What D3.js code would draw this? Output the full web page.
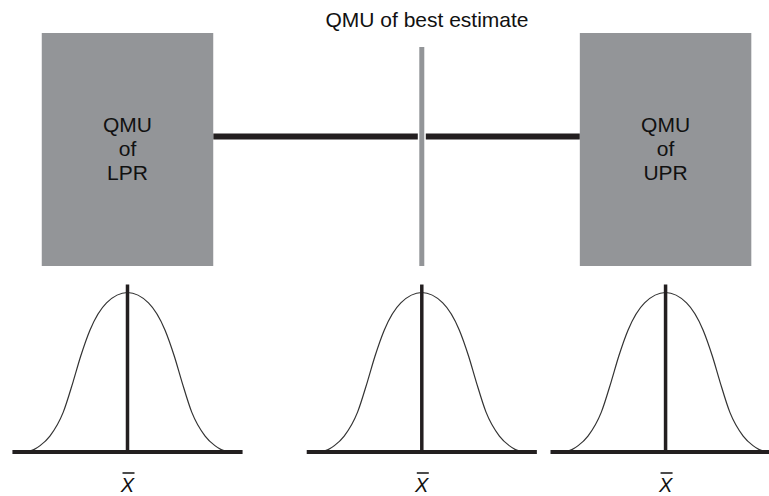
<!DOCTYPE html>
<html>
<head>
<meta charset="utf-8">
<script src="https://cdn.jsdelivr.net/npm/d3@7"></script>
<style>
  body { margin: 0; background: #fff; }
</style>
</head>
<body>
<div id="chart"></div>
<script>
const FRAME_WIDTH = 769;
const FRAME_HEIGHT = 496;

// the three estimates (arbitrary units on a 0-10 axis)
const estimateNames = ["LPR", "best estimate", "UPR"];
const estimateMeans = [1.658, 5.485, 8.655];
const sigma = 0.58;

// bell profile: offset (in sigma) and relative height
const profileOffsets = [-2.28, -2.1, -1.96, -1.74, -1.44, -1.22, -1.05, -0.84, -0.47, 0,
                        0.47, 0.84, 1.05, 1.22, 1.44, 1.74, 1.96, 2.1, 2.28];
const profileHeights = [0, 0.015, 0.04, 0.1, 0.25, 0.44, 0.6, 0.765, 0.935, 1,
                        0.935, 0.765, 0.6, 0.44, 0.25, 0.1, 0.04, 0.015, 0];

// box labels
const boxLabels = [["QMU", "of", "LPR"], null, ["QMU", "of", "UPR"]];
const boxHalfWidth = 1.115;
const titleText = "QMU of best estimate";

const xScale = d3.scaleLinear().domain([0, 10]).range([0, FRAME_WIDTH]);
const yTop = d3.scaleLinear().domain([0, 1]).range([266, 33]);     // upper panel
const yCurve = d3.scaleLinear().domain([0, 1]).range([452, 292.5]);  // bell curves

const svg = d3.select("#chart")
  .append("svg")
    .attr("width", FRAME_WIDTH)
    .attr("height", FRAME_HEIGHT);

const GREY = "#939598";
const DARK = "#231f20";
const FONT = "'Liberation Sans', Arial, Helvetica, sans-serif";

// thick connector between the two boxes
svg.append("line")
  .attr("x1", xScale(estimateMeans[0] + boxHalfWidth))
  .attr("x2", xScale(estimateMeans[2] - boxHalfWidth))
  .attr("y1", yTop(0.556))
  .attr("y2", yTop(0.556))
  .attr("stroke", DARK)
  .attr("stroke-width", 6);

// grey boxes for LPR and UPR
const boxes = [0, 2];
svg.selectAll("rect.box")
  .data(boxes)
  .enter()
  .append("rect")
    .attr("class", "box")
    .attr("x", i => xScale(estimateMeans[i] - boxHalfWidth))
    .attr("y", yTop(1))
    .attr("width", xScale(2 * boxHalfWidth) - xScale(0))
    .attr("height", yTop(0) - yTop(1))
    .attr("fill", GREY);

// vertical bar for the best estimate
[["#fff", 8], [GREY, 5]].forEach(s => {
  svg.append("line")
    .attr("x1", xScale(estimateMeans[1]))
    .attr("x2", xScale(estimateMeans[1]))
    .attr("y1", yTop(0.94))
    .attr("y2", yTop(0))
    .attr("stroke", s[0])
    .attr("stroke-width", s[1]);
});

svg.append("text")
  .attr("x", 427)
  .attr("y", 27)
  .attr("text-anchor", "middle")
  .style("font-family", FONT)
  .style("font-size", "21px")
  .attr("fill", "#111")
  .text(titleText);

// labels inside boxes
boxes.forEach(i => {
  svg.append("g")
    .selectAll("text")
    .data(boxLabels[i])
    .enter()
    .append("text")
      .attr("x", xScale(estimateMeans[i]))
      .attr("y", (d, k) => 132 + k * 24)
      .attr("text-anchor", "middle")
      .style("font-family", FONT)
      .style("font-size", "21px")
      .attr("fill", "#111")
      .text(d => d);
});

// bell curves
const profile = profileOffsets.map((o, k) => ({o: o, h: profileHeights[k]}));

estimateMeans.forEach((m, i) => {
  const g = svg.append("g");
  const line = d3.line()
    .x(d => xScale(m + d.o * sigma))
    .y(d => yCurve(d.h))
    .curve(d3.curveMonotoneX);

  g.append("path")
    .datum(profile)
    .attr("d", line)
    .attr("fill", "none")
    .attr("stroke", "#333")
    .attr("stroke-width", 1.2);

  // baseline
  g.append("line")
    .attr("x1", xScale(m - 2.58 * sigma))
    .attr("x2", Math.min(FRAME_WIDTH, xScale(m + 2.58 * sigma)))
    .attr("y1", yCurve(0))
    .attr("y2", yCurve(0))
    .attr("stroke", DARK)
    .attr("stroke-width", 4);

  // mean marker
  g.append("line")
    .attr("x1", xScale(m))
    .attr("x2", xScale(m))
    .attr("y1", yCurve(1.05))
    .attr("y2", yCurve(0))
    .attr("stroke", DARK)
    .attr("stroke-width", 3.5);

  // x-bar label
  g.append("text")
    .attr("x", xScale(m))
    .attr("y", 492)
    .attr("text-anchor", "middle")
    .style("font-family", FONT)
    .style("font-style", "italic")
    .style("font-size", "20px")
    .attr("fill", "#111")
    .text("X");

  g.append("line")
    .attr("x1", xScale(m) - 5)
    .attr("x2", xScale(m) + 7)
    .attr("y1", 473)
    .attr("y2", 473)
    .attr("stroke", "#111")
    .attr("stroke-width", 1.5);
});
</script>
</body>
</html>
